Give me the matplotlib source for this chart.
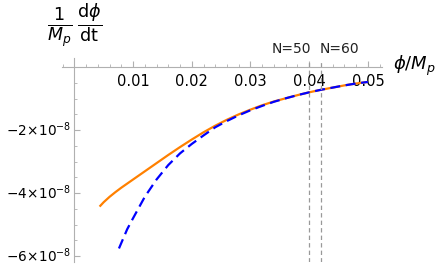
import numpy as np
import matplotlib
matplotlib.use("Agg")
import matplotlib.pyplot as plt
import matplotlib.transforms as mtransforms
from matplotlib.ticker import MultipleLocator, FixedLocator

plt.rcParams['mathtext.fontset'] = 'dejavusans'

# data (y in units of 1e-8)
phi_orange = [0.0043, 0.005, 0.006, 0.007, 0.008, 0.010, 0.012, 0.014, 0.016, 0.018, 0.020, 0.022,
              0.024, 0.026, 0.028, 0.030, 0.032, 0.034, 0.036, 0.038, 0.040, 0.042,
              0.044, 0.046, 0.048, 0.050]
dphi_orange = [-4.43, -4.29, -4.12, -3.97, -3.83, -3.57, -3.31, -3.05, -2.79, -2.54, -2.30, -2.07,
               -1.86, -1.67, -1.50, -1.35, -1.21, -1.09, -0.99, -0.89, -0.80, -0.72,
               -0.65, -0.58, -0.52, -0.47]
phi_blue = [0.0076, 0.009, 0.010, 0.012, 0.014, 0.016, 0.018, 0.020, 0.022, 0.024,
            0.026, 0.028, 0.030, 0.032, 0.034, 0.036, 0.038, 0.040, 0.042, 0.044,
            0.046, 0.048, 0.050]
dphi_blue = [-5.76, -5.15, -4.80, -4.12, -3.57, -3.11, -2.74, -2.44, -2.17, -1.91,
             -1.71, -1.53, -1.37, -1.23, -1.10, -0.99, -0.89, -0.80, -0.72, -0.65,
             -0.58, -0.52, -0.47]
n_lines = [0.0399, 0.0420]
n_labels = ["N=50", "N=60"]
xticks = [0.01, 0.02, 0.03, 0.04, 0.05]
xtick_labels = ["0.01", "0.02", "0.03", "0.04", "0.05"]
yticks = [-6, -4, -2]
ytick_labels = [r"$-6\!\times\!10^{-8}$", r"$-4\!\times\!10^{-8}$", r"$-2\!\times\!10^{-8}$"]

W, H = 436, 264
fig = plt.figure(figsize=(W/100, H/100), dpi=100)
ax = fig.add_axes([62/W, 2/H, 320/W, 204/H])
ax.set_xlim(-0.0021, 0.0524)
ax.set_ylim(-6.19, 0.29)

ax.plot(phi_orange, dphi_orange, color='#FF8000', lw=1.6, solid_capstyle='butt')
ax.plot(phi_blue, dphi_blue, color='#0000FF', lw=1.6, dashes=(4.5, 2.5))

for xv in n_lines:
    ax.axvline(xv, color='#999999', lw=0.9, dashes=(3.5, 2.5), ymax=0.99)

ax.text(n_lines[0] + 0.0005, 0.58, n_labels[0], ha='right', va='center', fontsize=10, color='#222222')
ax.text(n_lines[1] - 0.0003, 0.58, n_labels[1], ha='left', va='center', fontsize=10, color='#222222')

gray = '#b0b0b0'
for s in ['top', 'right']:
    ax.spines[s].set_visible(False)
ax.spines['left'].set_position(('data', 0))
ax.spines['bottom'].set_position(('data', 0))
ax.spines['left'].set_color(gray)
ax.spines['bottom'].set_color(gray)
ax.spines['left'].set_linewidth(0.8)
ax.spines['bottom'].set_linewidth(0.8)

ax.xaxis.set_major_locator(FixedLocator(xticks))
ax.set_xticklabels(xtick_labels)
ax.xaxis.set_minor_locator(FixedLocator(np.arange(-0.002, 0.0525, 0.002)))
ax.yaxis.set_major_locator(FixedLocator(yticks))
ax.set_yticklabels(ytick_labels)
ax.yaxis.set_minor_locator(MultipleLocator(0.5))

ax.tick_params(axis='x', which='major', direction='in', length=4, width=0.8, color=gray,
               labelsize=10.5, pad=5)
ax.tick_params(axis='x', which='minor', direction='in', length=2.5, width=0.6, color=gray)
ax.tick_params(axis='y', which='major', direction='in', length=4, width=0.8, color=gray,
               labelsize=9.8, pad=2)
ax.tick_params(axis='y', which='minor', direction='in', length=2.5, width=0.6, color=gray)

shift = mtransforms.ScaledTranslation(0, 1.5/100, fig.dpi_scale_trans)
for lbl in ax.get_yticklabels():
    lbl.set_transform(lbl.get_transform() + shift)

fig.text(75/W, 1 - 26/H, r'$\frac{1}{M_p}\,\frac{\mathrm{d}\phi}{\mathrm{dt}}$',
         ha='center', va='center', fontsize=18)
fig.text(393/W, 1 - 66/H, r'$\phi/M_p$', ha='left', va='center', fontsize=13)

fig.savefig('out.png', dpi=100)
